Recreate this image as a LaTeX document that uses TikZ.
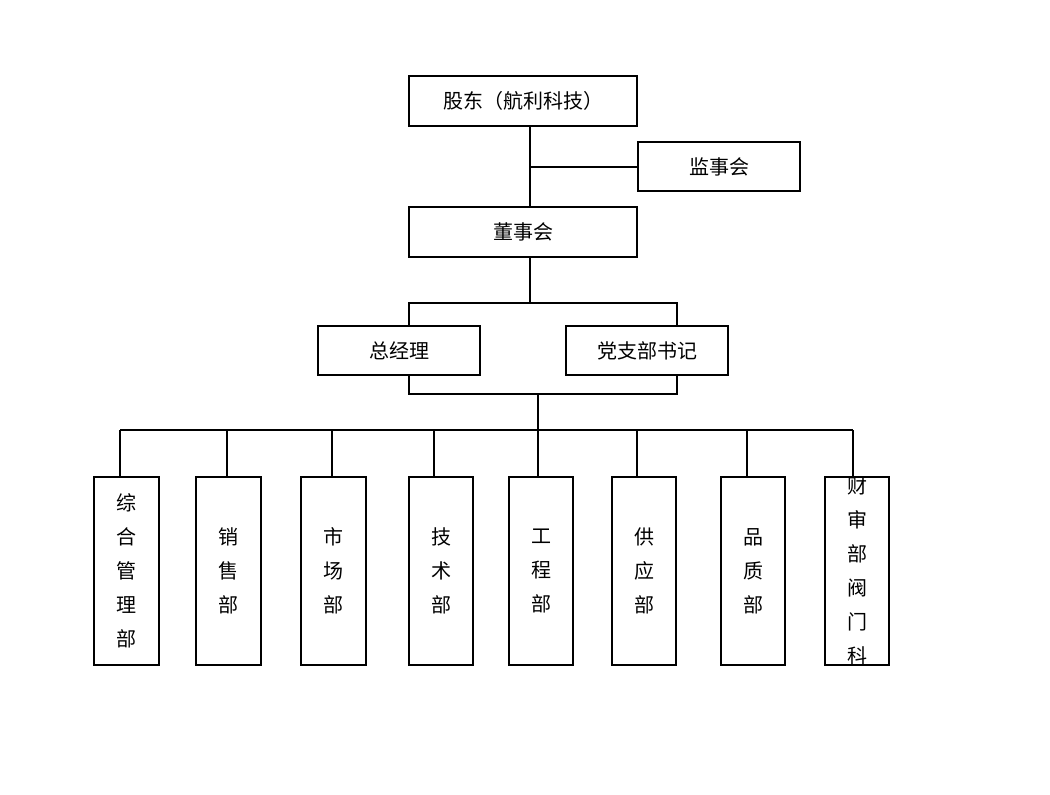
\documentclass[tikz,border=0pt]{standalone}
\usepackage{fontspec}
\newfontfamily\cjk{Noto Sans CJK SC}
\usetikzlibrary{positioning}
\begin{document}
\begin{tikzpicture}[x=0.75pt, y=-0.75pt, line width=1.5pt,
    wide/.style={draw,inner sep=0,minimum width=171pt,minimum height=37.5pt,font=\cjk\fontsize{15}{18}\selectfont},
    mid/.style={draw,inner sep=0,minimum width=121.5pt,minimum height=37pt,font=\cjk\fontsize{15}{18}\selectfont},
    tall/.style={draw,inner sep=0,minimum width=48.5pt,minimum height=141pt,align=center,font=\cjk\fontsize{15}{25.5}\selectfont}]
    \useasboundingbox (0,0) rectangle (1050,794);
    \node at (523,101) [wide] (gudong) {股东（航利科技）};
    \node at (719,166.5) [mid] (jianshi) {监事会};
    \node at (523,232) [wide] (dongshi) {董事会};
    \node at (399,350.5) [mid] (zongjingli) {总经理};
    \node at (647,350.5) [mid] (shuji) {党支部书记};
    \node at (126.5,571) [tall] (zonghe) {综\\合\\管\\理\\部};
    \node at (228.5,571) [tall] (xiaoshou) {销\\售\\部};
    \node at (333.5,571) [tall] (shichang) {市\\场\\部};
    \node at (441,571) [tall] (jishu) {技\\术\\部};
    \node at (541,571) [tall] (gongcheng) {工\\程\\部};
    \node at (644,571) [tall] (gongying) {供\\应\\部};
    \node at (753,571) [tall] (pinzhi) {品\\质\\部};
    \node at (857,571) [tall] (caishen) {财\\审\\部\\阀\\门\\科};
    % trunk lines
    \coordinate (t) at (530,0);
    \draw (t |- gudong.south) -- (t |- dongshi.north);
    \draw (t |- jianshi.west) -- (jianshi.west);
    \coordinate (fork) at (530,303);
    \draw (t |- dongshi.south) -- (fork);
    \draw (409,326) -- (409,303) -- (677,303) -- (677,326);
    \draw (409,375) -- (409,394) -- (677,394) -- (677,375);
    \coordinate (bus) at (538,430);
    \draw (538,394) -- (bus);
    \draw (120,430) -- (853,430);
    \draw (120,430) -- (120,477);
    \draw (227,430) -- (227,477);
    \draw (332,430) -- (332,477);
    \draw (434,430) -- (434,477);
    \draw (538,430) -- (538,477);
    \draw (637,430) -- (637,477);
    \draw (747,430) -- (747,477);
    \draw (853,430) -- (853,477);
\end{tikzpicture}
\end{document}
